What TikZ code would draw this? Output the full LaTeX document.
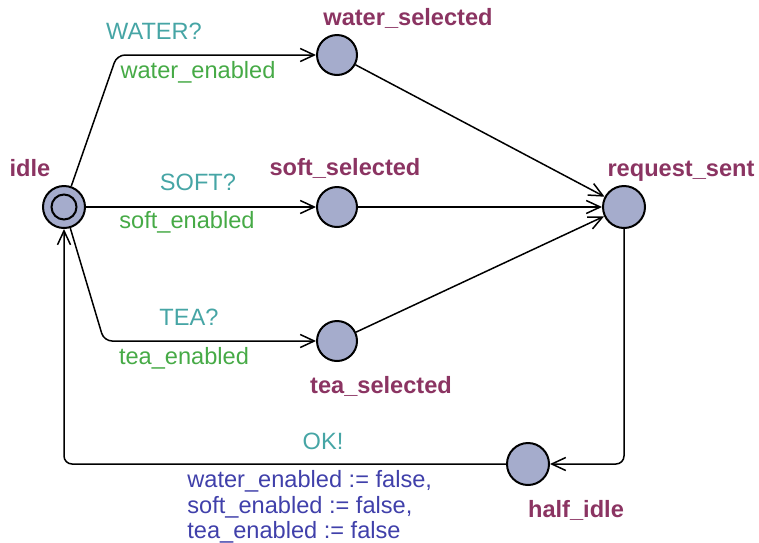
\documentclass[tikz,border=0pt]{standalone}
\usepackage{fontspec}
\setmainfont{Liberation Sans}
\usepackage{tikz}
\usetikzlibrary{arrows.meta,positioning,calc}
\usepackage{xcolor}
\definecolor{locfill}{RGB}{165,172,204}
\definecolor{locname}{RGB}{139,52,98}
\definecolor{synccol}{RGB}{70,165,165}
\definecolor{guardcol}{RGB}{70,170,70}
\definecolor{updcol}{RGB}{64,64,170}
\tikzset{
  locnode/.style={circle, draw=black, fill=locfill, line width=1pt,
                  minimum size=20pt, inner sep=0pt},
  edgearr/.style={-{Straight Barb[length=7pt,width=6.5pt]}, draw=black,
                  line width=0.75pt, rounded corners=4pt},
  namelab/.style={font=\fontsize{11.8}{13}\selectfont\bfseries, text=locname},
  synclab/.style={font=\fontsize{11.8}{13}\selectfont, text=synccol},
  guardlab/.style={font=\fontsize{11.8}{13}\selectfont, text=guardcol},
  updlab/.style={font=\fontsize{11.8}{12.8}\selectfont, text=updcol, align=left},
}
\begin{document}
\begin{tikzpicture}[x=0.5pt,y=-0.5pt]
\useasboundingbox (0,0) rectangle (759,542);
% locations
\node[locnode, minimum size=21pt] (idle) at (64,207) {};
\node[circle, draw=black, line width=1pt, minimum size=12.5pt, inner sep=0pt] (idlein) at (idle) {};
\node[locnode] (water) at (337,55) {};
\node[locnode] (soft) at (337,207) {};
\node[locnode] (tea) at (337,341) {};
\node[locnode, minimum size=21pt] (req) at (624,207) {};
\node[locnode, minimum size=21pt] (half) at (528,464) {};
% location names
\node[namelab] (idlename) at (30,168) {idle};
\node[namelab] (watername) at (408,18) {water\_selected};
\node[namelab] (softname) at (345,168) {soft\_selected};
\node[namelab] (teaname) at (381,386) {tea\_selected};
\node[namelab] (reqname) at (681,171) {request\_sent};
\node[namelab] (halfname) at (576,510) {half\_idle};
% bend points
\coordinate (wbend) at (117,55);
\coordinate (tbend) at (104,341);
\coordinate (rbend) at (624,464);
\coordinate (hbend) at (64,464);
% edges
\draw[edgearr] (idle) -- (wbend) -- (water);
\draw[edgearr] (idle) -- (soft);
\draw[edgearr] (idle) -- (tbend) -- (tea);
\draw[edgearr] (water) -- (req);
\draw[edgearr] (soft) -- (req);
\draw[edgearr] (tea) -- (req);
\draw[edgearr] (req) -- (rbend) -- (half);
\draw[edgearr] (half) -- (hbend) -- (idle);
% edge labels
\node[synclab] (wsync) at (154,31) {WATER?};
\node[guardlab] (wguard) at (198,72) {water\_enabled};
\node[synclab] (ssync) at (198,182) {SOFT?};
\node[guardlab] (sguard) at (187,222) {soft\_enabled};
\node[synclab] (tsync) at (189,317) {TEA?};
\node[guardlab] (tguard) at (184,358) {tea\_enabled};
\node[synclab] (oksync) at (323,441) {OK!};
\node[updlab, anchor=north west, inner sep=0pt] (okupd) at (187,470)
  {water\_enabled := false,\\soft\_enabled := false,\\tea\_enabled := false};
\end{tikzpicture}
\end{document}
